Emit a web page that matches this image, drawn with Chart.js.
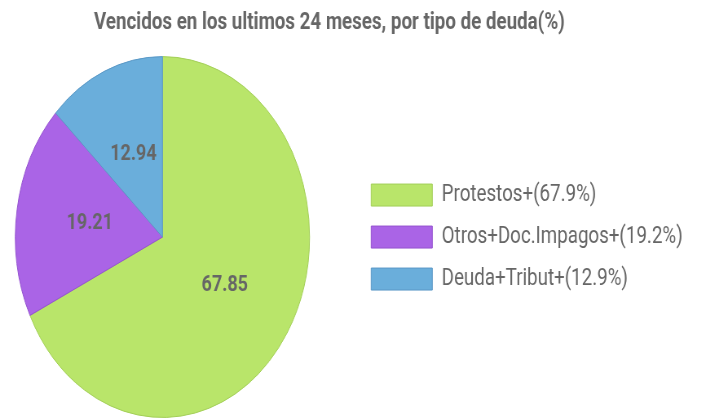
<!DOCTYPE html>
<html>
<head>
<meta charset="utf-8">
<script src="https://cdn.jsdelivr.net/npm/chart.js@4.4.1/dist/chart.umd.min.js"></script>
<style>
  html, body { margin: 0; padding: 0; background: #fff; overflow: hidden; }
  #wrap { width: 866px; height: 418px; transform: scaleX(0.8152); transform-origin: 0 0; }
</style>
</head>
<body>
<div id="wrap"><canvas id="c" width="866" height="418"></canvas></div>
<script>
const title = "Vencidos en los ultimos 24 meses, por tipo de deuda(%)";
const categories = ["Protestos+(67.9%)", "Otros+Doc.Impagos+(19.2%)", "Deuda+Tribut+(12.9%)"];
const values = [67.85, 19.21, 12.94];
const valueLabels = ["67.85", "19.21", "12.94"];
const fillColors = ["#b9e56a", "#aa64e6", "#6aaedb"];
const edgeColors = ["#a3cf58", "#9452cf", "#5a98c6"];

const LEGEND_W = 409.4;
const LEGEND_SHIFT = 37.7;

const legendPlacePlugin = {
  id: 'legendPlace',
  beforeInit(chart) {
    const legend = chart.legend;
    if (!legend) return;
    const orig = legend.fit;
    legend.fit = function () { orig.call(this); this.width = LEGEND_W; };
  },
  afterLayout(chart) {
    const legend = chart.legend;
    if (!legend) return;
    legend.left += LEGEND_SHIFT;
    legend.right += LEGEND_SHIFT;
  }
};

const valueLabelPlugin = {
  id: 'valueLabels',
  afterDatasetsDraw(chart) {
    const ctx = chart.ctx;
    const meta = chart.getDatasetMeta(0);
    ctx.save();
    ctx.font = "bold 22px Roboto";
    ctx.fillStyle = "#666";
    ctx.textAlign = "center";
    ctx.textBaseline = "middle";
    meta.data.forEach((arc, i) => {
      const p = arc.getCenterPoint();
      ctx.fillText(valueLabels[i], p.x, p.y);
    });
    ctx.restore();
  }
};

new Chart(document.getElementById('c'), {
  type: 'pie',
  data: {
    labels: categories,
    datasets: [{
      data: values,
      backgroundColor: fillColors,
      borderColor: edgeColors,
      borderWidth: 1
    }]
  },
  options: {
    responsive: false,
    animation: false,
    devicePixelRatio: 1,
    layout: { padding: { left: 0, right: 58, top: 0, bottom: 0 } },
    plugins: {
      title: {
        display: true,
        text: title,
        color: '#666',
        font: { family: 'Roboto', size: 23, weight: 'bold' },
        padding: { top: 9, bottom: 19.5 }
      },
      legend: {
        position: 'right',
        fullSize: false,
        labels: {
          boxWidth: 75,
          boxHeight: 22,
          padding: 19,
          color: '#666',
          font: { family: 'Roboto', size: 23 }
        }
      },
      tooltip: { enabled: false }
    }
  },
  plugins: [legendPlacePlugin, valueLabelPlugin]
});
</script>
</body>
</html>
